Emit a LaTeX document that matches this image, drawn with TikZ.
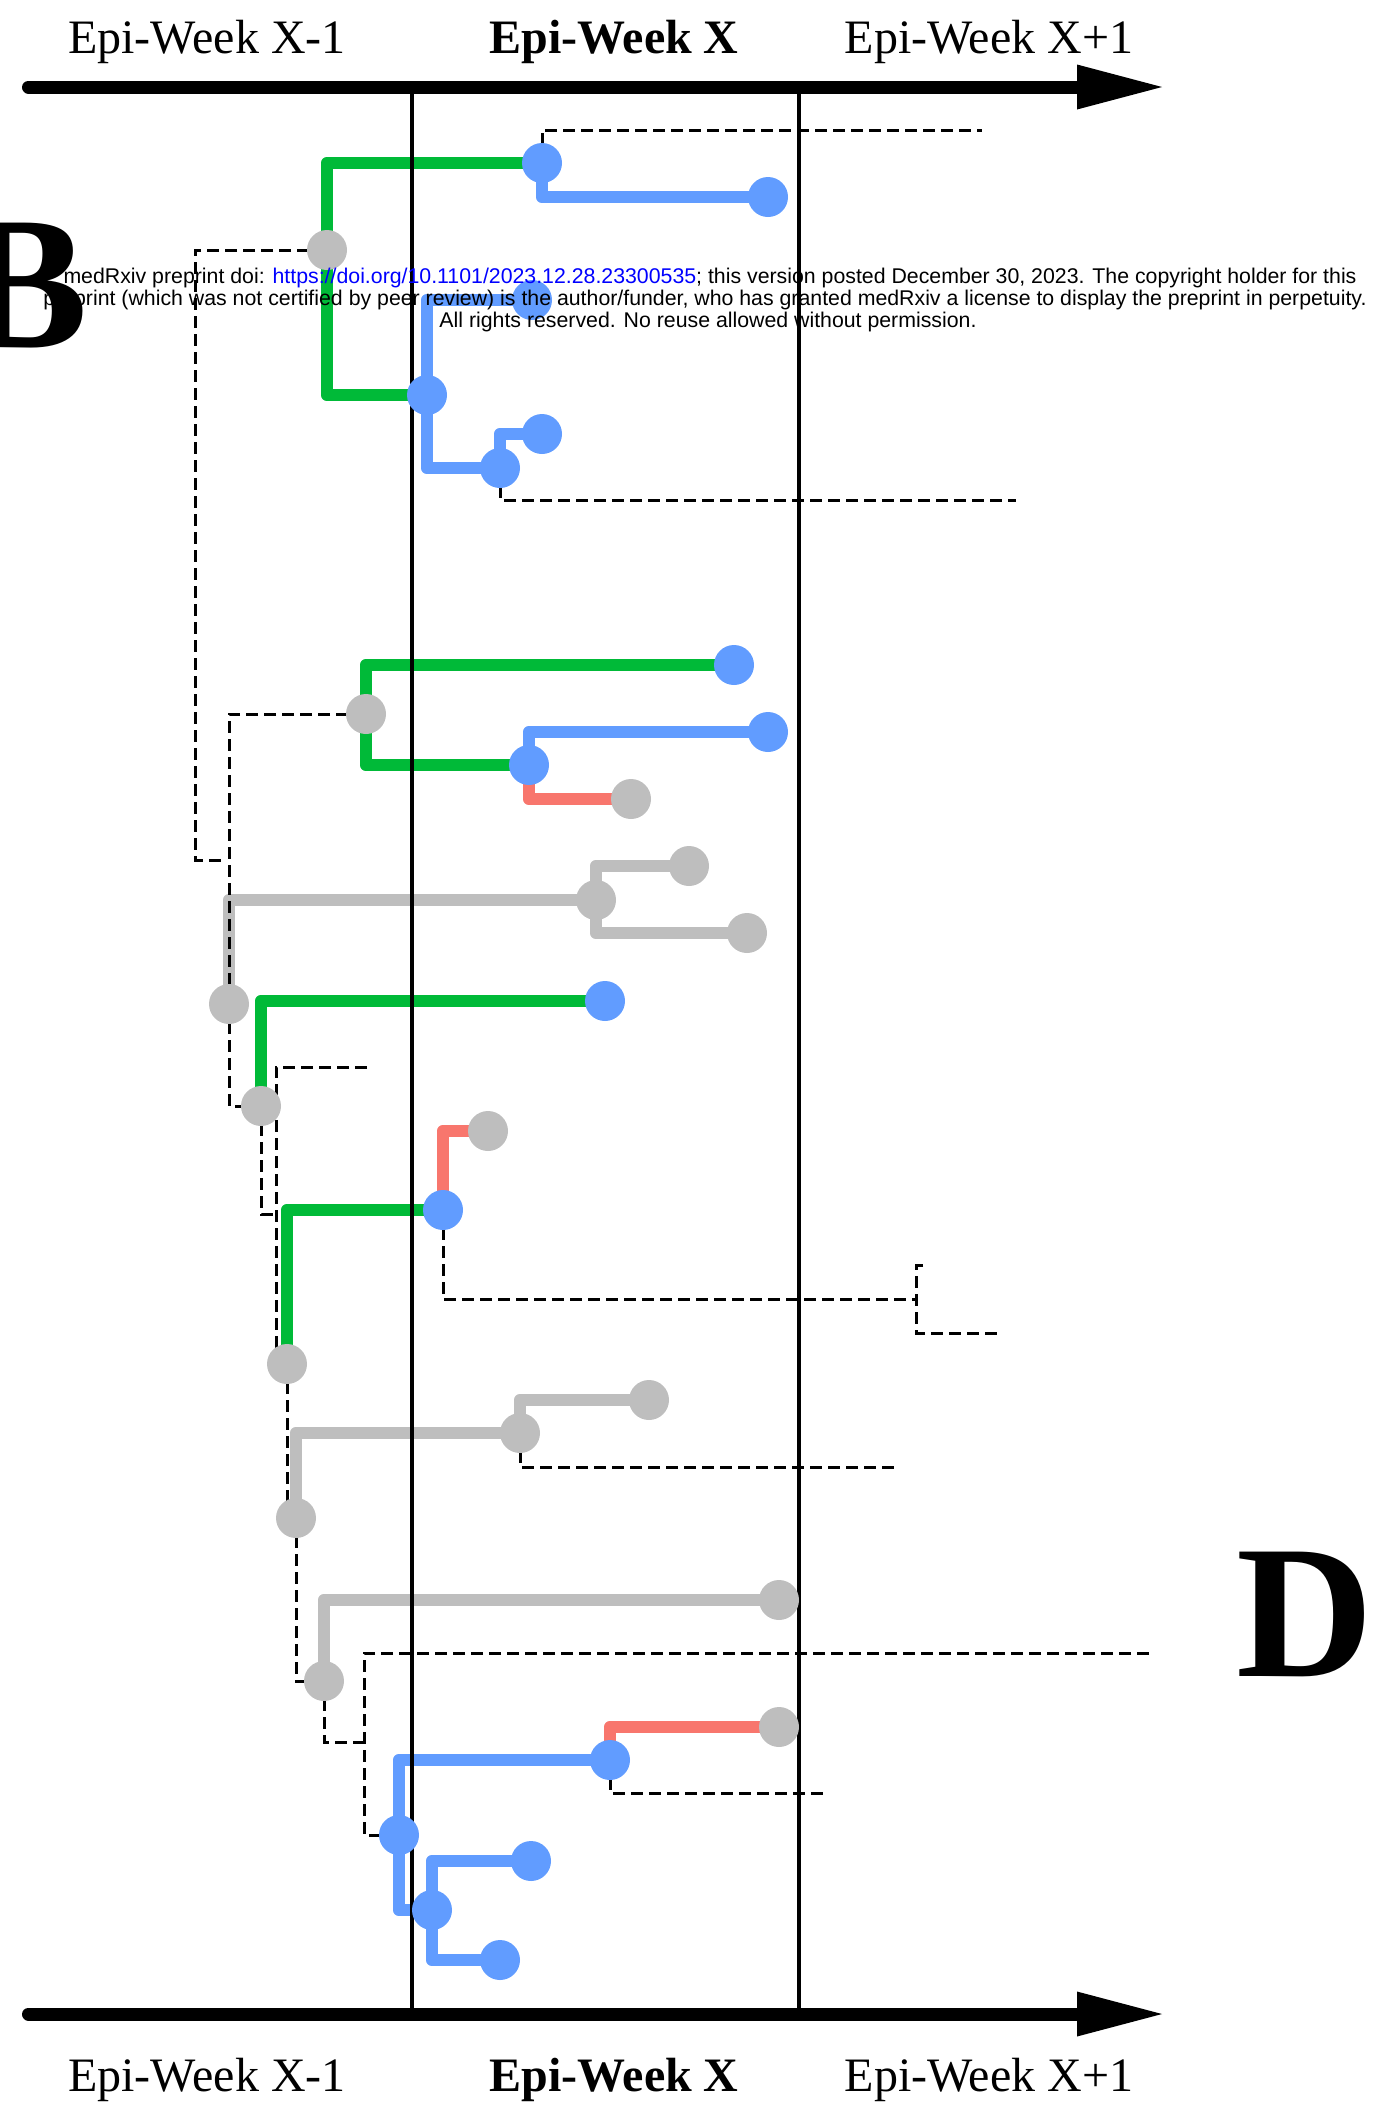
\documentclass[tikz,border=0pt]{standalone}
\usepackage{fontspec}
\setmainfont{Liberation Serif}
\newfontfamily\wmfont{Liberation Sans}
\definecolor{cgreen}{HTML}{00BA38}
\definecolor{cblue}{HTML}{619CFF}
\definecolor{cred}{HTML}{F8766D}
\definecolor{cgray}{HTML}{BEBEBE}
\definecolor{clink}{RGB}{0,0,255}
\pgfdeclarelayer{edges}
\pgfdeclarelayer{grid}
\pgfsetlayers{edges,grid,main}
\begin{document}
\begin{tikzpicture}[x=0.5pt,y=-0.5pt,
  bn/.style={circle,fill=cblue,inner sep=0pt,minimum size=20pt},
  gn/.style={circle,fill=cgray,inner sep=0pt,minimum size=20pt},
  br/.style={line width=6.25pt,line join=round},
  dl/.style={line width=1.5pt,dash pattern=on 6pt off 3pt},
  axlab/.style={anchor=base,inner sep=0pt,font=\fontsize{24pt}{28pt}\selectfont},
  wm/.style={anchor=base,inner sep=0pt,font=\wmfont\fontsize{10.65pt}{11pt}\selectfont},
  big/.style={inner sep=0pt,font=\fontsize{95pt}{100pt}\selectfont\bfseries}
  ]
\useasboundingbox (0,0) rectangle (1375,2106);

% ---------- nodes: top cluster
\node[gn] (G1) at (327,250) {};
\node[bn] (B1) at (542,163) {};
\node[bn] (B2) at (768,197) {};
\node[bn] (B3) at (427,395) {};
\node[bn] (B4) at (532,300) {};
\node[bn] (B5) at (500,468) {};
\node[bn] (B6) at (542,434) {};
% ---------- middle cluster
\node[gn] (G2) at (366,714) {};
\node[bn] (B7) at (734,665) {};
\node[bn] (B8) at (529,765) {};
\node[bn] (B9) at (768,732) {};
\node[gn] (R1) at (631,799) {};
\node[gn] (G3) at (596,900) {};
\node[gn] (G3a) at (689,866) {};
\node[gn] (G3b) at (747,933) {};
\node[gn] (G4) at (229,1004) {};
\node[bn] (B10) at (605,1001) {};
\node[gn] (G5) at (261,1106) {};
% ---------- lower cluster
\node[gn] (G6) at (287,1364) {};
\node[bn] (B11) at (443,1210) {};
\node[gn] (R2) at (488,1131) {};
\node[gn] (G7) at (296,1518) {};
\node[gn] (G8) at (520,1433) {};
\node[gn] (G8a) at (649,1400) {};
\node[gn] (G9) at (324,1681) {};
\node[gn] (G9a) at (779,1600) {};
% ---------- bottom cluster
\node[bn] (B12) at (399,1835) {};
\node[bn] (B13) at (610,1760) {};
\node[gn] (R3) at (779,1727) {};
\node[bn] (B14) at (432,1910) {};
\node[bn] (B15) at (531,1861) {};
\node[bn] (B16) at (500,1960) {};

% ---------- free ends of dashed lines
\coordinate (d1) at (982,130);
\coordinate (d2) at (1016,500);
\coordinate (k1) at (195,860);
\coordinate (k2) at (226,860);
\coordinate (d3) at (367,1067);
\coordinate (d4) at (276,1214);
\coordinate (d5) at (276,1362);
\coordinate (e1) at (916,1299);
\coordinate (e2) at (923,1265);
\coordinate (e4) at (916,1333);
\coordinate (e3) at (1002,1333);
\coordinate (f1) at (895,1467);
\coordinate (f2) at (364,1742);
\coordinate (f3) at (1149,1653);
\coordinate (f4) at (364,1653);
\coordinate (h1) at (824,1793);

% ---------- axes coordinates
\coordinate (TL) at (28.5,87);
\coordinate (TR) at (1077,87);
\coordinate (TT) at (1162,87);
\coordinate (TU) at (1077,64.5);
\coordinate (TD) at (1077,109.5);
\coordinate (BL) at (28.5,2014);
\coordinate (BR) at (1077,2014);
\coordinate (BT) at (1162,2014);
\coordinate (BU) at (1077,1991.5);
\coordinate (BD) at (1077,2036.5);
\coordinate (V1t) at (412,87);
\coordinate (V1b) at (412,2014);
\coordinate (V2t) at (799,87);
\coordinate (V2b) at (799,2014);

\begin{pgfonlayer}{edges}
% coloured branches
\draw[br,cgreen] (G1.center) |- (B1.center);
\draw[br,cblue] (B1.center) |- (B2.center);
\draw[br,cgreen] (G1.center) |- (B3.center);
\draw[br,cblue] (B3.center) |- (B4.center);
\draw[br,cblue] (B3.center) |- (B5.center);
\draw[br,cblue] (B5.center) |- (B6.center);
\draw[br,cgreen] (G2.center) |- (B7.center);
\draw[br,cgreen] (G2.center) |- (B8.center);
\draw[br,cblue] (B8.center) |- (B9.center);
\draw[br,cred] (B8.center) |- (R1.center);
\draw[br,cgray] (G3.center) |- (G3a.center);
\draw[br,cgray] (G3.center) |- (G3b.center);
\draw[br,cgray] (G4.center) |- (G3.center);
\draw[br,cgreen] (G5.center) |- (B10.center);
\draw[br,cgreen] (G6.center) |- (B11.center);
\draw[br,cred] (B11.center) |- (R2.center);
\draw[br,cgray] (G7.center) |- (G8.center);
\draw[br,cgray] (G8.center) |- (G8a.center);
\draw[br,cgray] (G9.center) |- (G9a.center);
\draw[br,cblue] (B12.center) |- (B13.center);
\draw[br,cred] (B13.center) |- (R3.center);
\draw[br,cblue] (B12.center) |- (B14.center);
\draw[br,cblue] (B14.center) |- (B15.center);
\draw[br,cblue] (B14.center) |- (B16.center);
% dashed tree
\draw[dl] (B1.center) |- (d1);
\draw[dl] (B5.center) |- (d2);
\draw[dl] (G1.center) -| (k1) -- (k2);
\draw[dl] (G2.center) -| (G4.center);
\draw[dl] (G4.center) |- (G5.center);
\draw[dl] (G5.center) |- (d4);
\draw[dl] (d3) -| (d5);
\draw[dl] (B11.center) |- (e1);
\draw[dl] (e2) -| (e4) -- (e3);
\draw[dl] (G6.center) |- (G7.center);
\draw[dl] (G8.center) |- (f1);
\draw[dl] (G7.center) |- (G9.center);
\draw[dl] (G9.center) |- (f2);
\draw[dl] (f3) -- (f4) |- (B12.center);
\draw[dl] (B13.center) |- (h1);
\end{pgfonlayer}

\begin{pgfonlayer}{grid}
\draw[line width=2.25pt] (V1t) -- (V1b);
\draw[line width=2.25pt] (V2t) -- (V2b);
\draw[line width=6.5pt,line cap=round] (TL) -- (TR);
\fill (TU) -- (TT) -- (TD) -- cycle;
\draw[line width=6.5pt,line cap=round] (BL) -- (BR);
\fill (BU) -- (BT) -- (BD) -- cycle;
\end{pgfonlayer}

% ---------- axis labels
\node[axlab] (t1) at (207,53) {Epi-Week X-1};
\node[axlab] (t2) at (614,53) {\bfseries Epi-Week X};
\node[axlab] (t3) at (989,53) {Epi-Week X+1};
\node[axlab] (b1) at (207,2091) {Epi-Week X-1};
\node[axlab] (b2) at (614,2091) {\bfseries Epi-Week X};
\node[axlab] (b3) at (989,2091) {Epi-Week X+1};

% ---------- watermark
\node[wm] (w1) at (710,283) {medRxiv preprint doi: \textcolor{clink}{https://doi.org/10.1101/2023.12.28.23300535}; this version posted December 30, 2023. The copyright holder for this};
\node[wm] (w2) at (705,305) {preprint (which was not certified by peer review) is the author/funder, who has granted medRxiv a license to display the preprint in perpetuity.};
\node[wm] (w3) at (708,327) {All rights reserved. No reuse allowed without permission.};

% ---------- panel letters
\node[big,anchor=base east] (LB) at (89,347) {B};
\node[big,anchor=base west] (LD) at (1236,1676) {D};
\end{tikzpicture}
\end{document}
